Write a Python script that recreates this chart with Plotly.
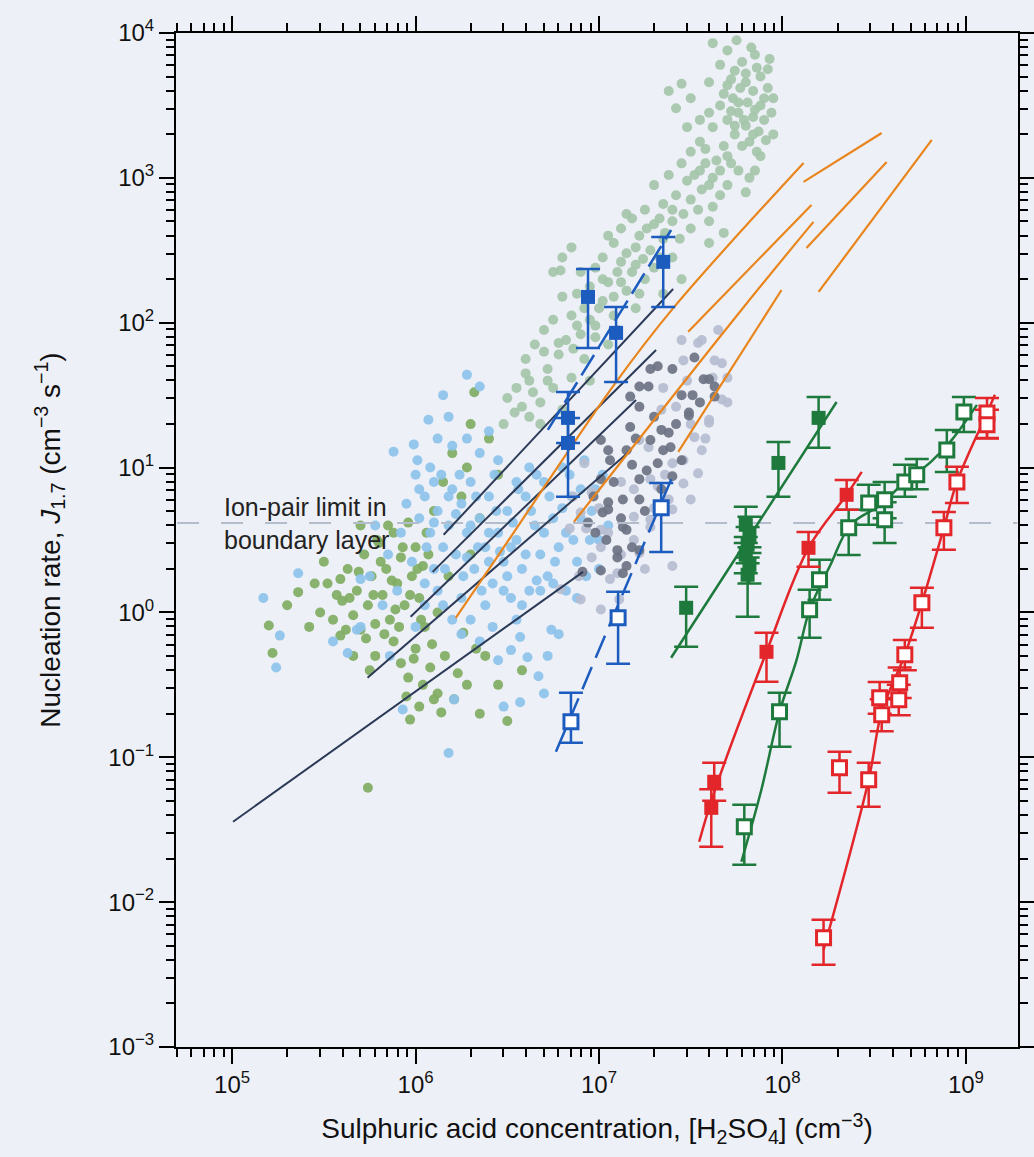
import numpy as np
import plotly.graph_objects as go

# ---------------- data (values stored as log10 exponents) ----------------
# upper, pale green field observations
sage_lx = [7.62,7.70,7.85,7.93,7.66,7.74,7.80,7.88,7.60,7.70,7.77,7.84,7.92,7.73,7.81,7.88,7.66,7.76,7.84,7.90,
           7.70,7.80,7.87,7.95,7.74,7.82,7.50,7.42,7.55,7.62,7.68,7.58,7.50,7.64,7.72,7.45,7.55,7.62,7.38,7.48,
           7.70,7.56,7.30,7.42,7.50,7.35,7.62,7.80,7.85,7.25,7.18,7.30,7.40,7.12,7.22,7.35,7.08,7.28,7.15,7.40,
           7.02,7.20,7.30,7.10,6.98,7.25,7.45,7.05,7.15,6.95,6.88,7.02,6.80,6.92,7.08,6.85,6.75,6.98,6.90,6.70,
           6.82,7.05,6.65,6.78,6.92,6.60,6.72,6.85,6.62,6.75,6.55,6.68,6.58,6.80,6.50,6.95,7.10,7.20,7.35,6.80,
           6.75,7.60,7.50,7.88,7.45,7.38,6.79,6.85,
           7.78,7.86,7.72,7.80,7.90,7.68,7.76,7.85,7.94,7.72,7.79,7.74,7.84,7.91,7.78,7.86,7.70,7.76,7.82,7.66,
           7.58,7.52,7.60,7.66,7.54,7.46,7.40,7.33,7.26,7.36,7.44,7.20,7.33,7.24,7.18,7.12,7.22,7.08,7.00,6.95,
           6.88,6.98,6.86,6.78,6.70,6.72,6.64,6.60,6.54,6.62,6.68,6.48,7.12,7.02,7.05,7.15,6.90,7.55,7.60,7.48,
           7.95,7.92,7.83,7.75,7.60,7.68]
sage_ly = [3.93,3.88,3.85,3.82,3.78,3.74,3.72,3.70,3.66,3.64,3.62,3.60,3.62,3.55,3.52,3.50,3.50,3.45,3.42,3.40,
           3.40,3.36,3.32,3.30,3.30,3.25,3.55,3.48,3.40,3.35,3.22,3.20,3.18,3.12,3.10,3.10,3.05,3.00,3.02,2.98,
           2.95,2.92,2.95,2.88,2.85,2.82,2.80,2.90,3.05,2.78,2.72,2.68,2.70,2.65,2.60,2.58,2.55,2.50,2.48,2.45,
           2.45,2.40,2.38,2.35,2.38,2.30,2.30,2.28,2.22,2.25,2.20,2.15,2.18,2.10,2.05,2.05,2.02,1.98,1.92,1.95,
           1.88,1.85,1.85,1.78,1.75,1.75,1.68,1.62,1.60,1.55,1.55,1.45,1.42,1.40,1.48,1.60,1.95,2.10,2.20,2.45,
           2.35,2.55,2.65,3.15,3.65,3.60,2.36,2.52,
           3.80,3.76,3.68,3.66,3.55,3.58,3.52,3.47,3.45,3.46,3.40,3.36,3.30,3.26,3.22,3.18,3.15,3.05,3.00,3.05,
           3.10,3.02,2.95,2.88,2.78,2.75,2.78,2.72,2.65,2.62,2.58,2.52,2.45,2.44,2.35,2.28,2.20,2.18,2.10,2.02,
           1.98,1.90,1.82,1.86,1.80,1.60,1.52,1.65,1.38,1.35,1.30,1.30,2.42,2.30,2.60,2.75,2.35,3.25,3.45,3.35,
           3.55,3.75,3.90,3.95,2.70,2.62]

# lower-left, olive green field observations
olive_lx = [5.36,5.59,5.48,5.20,5.22,5.59,5.74,5.30,5.42,5.52,5.55,5.60,5.63,5.66,5.68,5.70,5.72,5.74,5.76,5.78,
            5.80,5.82,5.84,5.86,5.88,5.90,5.92,5.94,5.96,5.98,6.00,6.02,6.04,6.06,5.88,5.92,5.96,6.00,6.04,6.08,
            5.97,6.12,6.21,6.14,6.26,6.23,6.10,6.15,6.20,6.25,6.30,6.32,6.28,6.35,6.40,6.45,6.18,6.30,6.38,6.45,
            6.50,6.35,6.58,5.66,5.78,5.70,6.05,6.12,
            5.64,5.69,5.73,5.77,5.81,5.83,5.87,5.89,5.91,5.93,5.97,5.99,6.01,6.03,6.07,6.09,5.85,5.79,5.75,5.62,
            5.57,5.50,5.45,6.16,6.28,6.33,6.10,6.02,5.95]
olive_ly = [0.14,0.23,0.00,-0.09,-0.28,-0.16,-1.21,0.05,-0.10,0.20,-0.05,0.08,0.30,-0.02,0.15,-0.12,0.40,0.05,0.25,-0.08,
            0.48,0.12,0.30,-0.05,0.55,0.20,0.38,0.05,0.62,0.25,0.45,0.10,0.32,0.55,-0.20,-0.35,-0.45,-0.25,-0.50,-0.38,
            -0.74,-0.56,-0.60,-0.69,-0.14,-0.42,0.70,0.90,1.10,0.80,1.30,1.52,1.00,0.65,1.20,0.95,0.25,0.40,-0.30,-0.50,
            -0.75,-0.70,-0.40,-0.30,-0.30,0.60,-0.10,0.00,
            0.10,0.28,-0.18,0.12,0.35,-0.15,0.22,0.02,-0.10,0.45,0.12,-0.32,0.30,-0.05,0.40,-0.22,0.60,0.50,-0.40,-0.12,
            0.12,0.35,0.20,-0.30,-0.50,-0.25,-0.60,-0.65,-0.58]

# light blue field observations
blue_lx = [6.28,6.35,6.15,6.07,6.18,5.88,5.99,6.01,6.08,5.36,5.17,5.26,5.24,5.63,5.68,5.70,5.93,6.18,6.21,6.48,
           6.57,6.67,6.70,6.45,6.52,6.61,6.74,6.57,6.00,6.05,6.10,6.02,6.12,6.08,6.15,6.20,6.18,6.25,6.22,6.28,
           6.30,6.32,6.35,6.38,6.40,6.42,6.45,6.48,6.50,6.52,6.55,6.58,6.60,6.62,6.65,6.68,6.70,6.72,6.75,6.78,
           6.80,6.82,6.85,6.88,6.90,6.92,6.95,6.98,6.62,6.55,6.45,6.35,6.28,6.40,6.20,6.12,5.95,5.92,5.98,6.05,
           6.10,6.15,6.25,6.30,6.38,6.42,6.48,6.58,6.68,6.75,6.82,6.88,6.55,6.35,6.25,6.00,5.90,5.85,5.78,6.72,
           6.78,7.00,7.05,7.02,5.75,5.82,5.70,5.86,5.55,
           6.02,6.06,6.10,6.14,6.16,6.22,6.24,6.26,6.30,6.33,6.36,6.40,6.43,6.46,6.50,6.53,6.56,6.60,6.63,6.66,
           6.70,6.73,6.76,6.80,6.84,6.86,6.90,6.93,6.96,7.00,6.44,6.34,6.18,6.28,6.52,6.66,6.12,6.05,6.20,6.40]
blue_ly = [1.64,1.56,1.50,1.33,1.35,1.11,1.16,1.05,1.00,0.27,0.10,-0.16,-0.38,-0.28,-0.12,0.23,-0.67,-0.97,-0.60,-0.65,
           -0.62,-0.44,-0.56,-0.33,-0.26,-0.31,-0.12,-0.17,0.95,0.80,0.90,0.65,0.70,0.55,0.45,0.85,0.60,0.75,0.40,0.55,
           0.90,0.30,0.65,0.45,0.80,0.20,0.55,0.35,0.70,0.10,0.50,0.30,0.80,0.15,0.60,0.40,0.90,0.25,0.65,0.45,
           1.00,0.55,0.80,0.35,0.65,1.05,0.50,0.85,1.00,0.90,1.05,1.10,1.20,1.25,1.15,1.20,0.75,0.55,0.35,0.20,
           0.30,0.05,0.10,-0.05,0.05,-0.10,0.15,0.05,0.15,0.20,0.15,0.10,-0.05,-0.20,-0.15,-0.10,0.15,0.40,0.60,-0.30,
           -0.15,0.30,0.60,0.95,0.25,0.05,-0.10,-0.30,-0.20,
           0.85,0.45,0.62,0.95,0.30,0.68,0.95,0.25,0.60,0.80,0.15,0.55,0.95,0.42,0.25,0.62,0.85,0.40,0.70,0.22,
           0.55,0.80,0.35,0.72,0.95,0.50,0.85,0.25,0.70,0.50,0.70,0.45,0.80,0.38,0.45,0.95,0.15,0.05,-0.05,0.35]

# dark grey observations
dgray_lx = [7.32,7.27,7.60,7.63,7.22,7.38,7.49,7.39,7.17,7.05,7.15,7.32,7.22,7.40,7.01,7.13,7.05,7.22,7.02,7.13,
            7.10,7.15,7.52,7.57,7.63,7.49,7.34,7.22,7.17,7.01,7.06,6.97,7.05,7.15,7.10,6.94,7.22,7.01,7.13,6.91,
            7.28,7.45,7.51,7.34,
            7.08,7.18,7.26,7.35,7.42,7.30,7.20,7.12,7.25,7.04,7.55,7.45,7.40,7.28,6.98,7.18]
dgray_ly = [1.70,1.56,1.61,1.56,1.42,1.24,1.36,1.14,1.28,1.12,1.12,1.03,0.92,0.94,0.92,0.78,0.76,0.78,0.69,0.59,
            0.38,0.32,1.76,1.61,1.49,1.38,1.26,1.56,1.49,1.19,1.05,0.80,0.71,0.57,0.43,0.62,0.43,0.29,0.27,0.28,
            1.19,1.05,1.50,0.85,
            0.90,1.02,0.98,1.12,1.30,1.35,1.20,0.65,0.70,0.50,1.45,1.50,1.68,1.68,0.55,0.45]

# light grey observations
lgray_lx = [7.45,7.54,7.46,7.63,7.67,7.60,7.52,7.46,7.54,7.27,7.32,7.38,7.46,7.19,7.28,7.05,7.19,7.01,7.22,7.40,
            7.10,6.96,6.90,7.65,7.56,7.67,7.70,7.60,7.40,7.28,7.19,6.92,6.86,7.01,7.28,7.40,6.96,6.89,7.11,7.01,
            6.90,6.79,7.06,7.34,7.56,7.50,7.22,
            7.35,7.42,7.50,7.58,7.30,7.12,7.00,6.93,7.48,7.62,7.70,7.12,7.36,7.25,6.84]
lgray_ly = [1.88,1.86,1.74,1.74,1.47,1.33,1.21,1.05,0.96,1.14,0.87,0.78,0.89,0.66,0.59,0.55,0.50,0.45,0.41,0.32,
            0.27,0.83,0.69,1.95,1.88,1.72,1.45,1.31,1.03,0.92,0.85,1.03,0.80,0.57,0.64,0.71,0.38,0.25,0.09,0.02,
            0.09,0.16,0.23,1.40,1.12,0.78,1.19,
            1.55,1.42,1.30,1.20,0.72,0.90,0.72,0.58,1.60,1.62,1.62,0.40,0.95,0.30,0.58]

# dark model lines
dark_x = [[6.153, 7.404], [6.093, 7.311], [5.973, 7.202], [5.738, 7.175], [5.005, 6.913]]
dark_y = [[0.536, 2.233], [0.280, 1.812], [-0.030, 1.467], [-0.451, 1.122], [-1.445, 0.280]]

# orange model curves
orange_x = [[6.219, 6.464, 7.082, 7.410, 8.115], [8.115, 8.541], [7.486, 8.158],
            [6.863, 7.776, 8.169], [8.131, 8.568], [8.197, 8.814], [7.432, 7.995]]
orange_y = [[-0.037, 0.418, 1.571, 2.109, 3.103], [2.972, 3.310], [1.937, 2.813],
            [0.625, 2.088, 2.696], [2.516, 3.110], [2.213, 3.262], [1.108, 2.226]]

# blue, filled squares
bf_lx = [6.940, 7.093, 7.350, 6.831, 6.831]
bf_ly = [2.178, 1.930, 2.420, 1.343, 1.170]
bf_hi = [2.371, 2.109, 2.592, 1.522, 1.343]
bf_lo = [1.826, 1.591, 2.109, 1.170, 0.798]
bf_fit_lx = [6.721, 7.393]
bf_fit_ly = [1.260, 2.640]
# blue, open squares
bo_lx = [6.847, 7.104, 7.339]
bo_ly = [-0.755, -0.037, 0.722]
bo_hi = [-0.555, 0.142, 0.894]
bo_lo = [-0.900, -0.355, 0.418]
bo_fit_lx = [6.765, 7.404]
bo_fit_ly = [-0.962, 0.950]

# green, filled squares
gf_lx = [7.475, 7.80, 7.82, 7.81, 7.80, 7.82, 7.81, 7.978, 8.197]
gf_ly = [0.032, 0.605, 0.535, 0.467, 0.398, 0.329, 0.260, 1.032, 1.343]
gf_hi = [0.177, 0.729, 0.660, 0.590, 0.520, 0.450, 0.380, 1.177, 1.488]
gf_lo = [-0.237, 0.480, 0.410, 0.340, 0.270, 0.200, -0.030, 0.798, 1.136]
gf_fit_lx = [7.393, 8.295]
gf_fit_ly = [-0.313, 1.453]
# green, open squares
go_lx = [7.792, 7.984, 8.148, 8.202, 8.361, 8.470, 8.557, 8.557, 8.667, 8.732, 8.896, 8.989]
go_ly = [-1.480, -0.686, 0.018, 0.225, 0.584, 0.756, 0.777, 0.639, 0.901, 0.950, 1.122, 1.384]
go_hi = [-1.328, -0.555, 0.156, 0.363, 0.708, 0.881, 0.900, 0.760, 1.019, 1.060, 1.260, 1.488]
go_lo = [-1.742, -0.928, -0.175, 0.087, 0.397, 0.605, 0.650, 0.480, 0.798, 0.850, 0.970, 1.246]
go_fit_lx = [7.776, 7.885, 7.984, 8.077, 8.148, 8.262, 8.372, 8.536, 8.650, 8.809, 8.923, 9.060]
go_fit_ly = [-1.721, -1.224, -0.686, -0.327, 0.018, 0.329, 0.605, 0.743, 0.881, 1.039, 1.191, 1.433]

# red, filled squares
rf_lx = [7.628, 7.612, 7.913, 8.142, 8.350]
rf_ly = [-1.169, -1.349, -0.272, 0.446, 0.812]
rf_hi = [-1.038, -1.220, -0.141, 0.556, 0.915]
rf_lo = [-1.300, -1.618, -0.479, 0.315, 0.708]
rf_fit_lx = [7.546, 7.623, 7.913, 8.142, 8.350, 8.432]
rf_fit_ly = [-1.583, -1.259, -0.272, 0.446, 0.812, 0.970]
# red, open squares
ro_lx = [8.224, 8.311, 8.470, 8.541, 8.530, 8.634, 8.639, 8.667, 8.760, 8.880, 8.951, 9.115, 9.115]
ro_ly = [-2.246, -1.073, -1.155, -0.707, -0.589, -0.603, -0.486, -0.293, 0.066, 0.584, 0.901, 1.377, 1.295]
ro_hi = [-2.122, -0.962, -1.038, -0.600, -0.480, -0.500, -0.380, -0.190, 0.170, 0.694, 1.005, 1.481, 1.400]
ro_lo = [-2.432, -1.245, -1.342, -0.820, -0.700, -0.710, -0.590, -0.400, -0.106, 0.432, 0.756, 1.205, 1.200]
ro_fit_lx = [8.224, 8.470, 8.541, 8.667, 8.760, 8.880, 8.951, 9.115, 9.158]
ro_fit_ly = [-2.329, -1.155, -0.686, -0.293, 0.066, 0.584, 0.901, 1.377, 1.502]

ion_pair_limit = 4.15  # cm^-3 s^-1

x_tick_exp = [5, 6, 7, 8, 9]
y_tick_exp = [-3, -2, -1, 0, 1, 2, 3, 4]

# ---------------- styling ----------------
BG = "#eef0f7"
FONT = "Liberation Sans, Arial, Helvetica, sans-serif"
C_SAGE, C_OLIVE, C_LBLUE = "#a4c5a9", "#7fad62", "#8dc3eb"
C_DGRAY, C_LGRAY = "#6c7383", "#b6bdd0"
C_DARK, C_ORANGE = "#2b3a57", "#e8851d"
C_BLUE, C_GREEN, C_RED = "#1d5cbf", "#1d7a3c", "#e2262a"


def P(a):
    return np.power(10.0, np.asarray(a, dtype=float))


fig = go.Figure()


def cloud(lx, ly, color, opacity=0.92):
    fig.add_trace(go.Scatter(x=P(lx), y=P(ly), mode="markers",
                             marker=dict(size=10, color=color, opacity=opacity, line=dict(width=0)),
                             showlegend=False, hoverinfo="skip"))


cloud(sage_lx, sage_ly, C_SAGE)
cloud(olive_lx, olive_ly, C_OLIVE)
cloud(blue_lx, blue_ly, C_LBLUE)
cloud(lgray_lx, lgray_ly, C_LGRAY)
cloud(dgray_lx, dgray_ly, C_DGRAY)

# ion-pair limit
fig.add_trace(go.Scatter(x=[10 ** 4.70, 10 ** 9.28], y=[ion_pair_limit, ion_pair_limit], mode="lines",
                         line=dict(color="#b4bdcb", width=2, dash="22px,22px"),
                         showlegend=False, hoverinfo="skip"))

for xs, ys in zip(dark_x, dark_y):
    fig.add_trace(go.Scatter(x=P(xs), y=P(ys), mode="lines", line=dict(color=C_DARK, width=2),
                             showlegend=False, hoverinfo="skip"))
for xs, ys in zip(orange_x, orange_y):
    fig.add_trace(go.Scatter(x=P(xs), y=P(ys), mode="lines", line=dict(color=C_ORANGE, width=2.2, shape="spline"),
                             showlegend=False, hoverinfo="skip"))


def series(lx, ly, hi, lo, color, filled, fit_lx, fit_ly, dash="solid"):
    fig.add_trace(go.Scatter(x=P(fit_lx), y=P(fit_ly), mode="lines",
                             line=dict(color=color, width=2.5, dash=dash, shape="spline"),
                             showlegend=False, hoverinfo="skip"))
    y = P(ly)
    fig.add_trace(go.Scatter(
        x=P(lx), y=y, mode="markers",
        error_y=dict(type="data", symmetric=False, array=P(hi) - y, arrayminus=y - P(lo),
                     color=color, thickness=2.5, width=12),
        marker=dict(symbol="square", size=14,
                    color=color if filled else "white",
                    line=dict(color=color, width=0 if filled else 3)),
        showlegend=False, hoverinfo="skip"))


series(bf_lx, bf_ly, bf_hi, bf_lo, C_BLUE, True, bf_fit_lx, bf_fit_ly, dash="24px,8px")
series(bo_lx, bo_ly, bo_hi, bo_lo, C_BLUE, False, bo_fit_lx, bo_fit_ly, dash="24px,10px")
series(gf_lx, gf_ly, gf_hi, gf_lo, C_GREEN, True, gf_fit_lx, gf_fit_ly)
series(go_lx, go_ly, go_hi, go_lo, C_GREEN, False, go_fit_lx, go_fit_ly)
series(rf_lx, rf_ly, rf_hi, rf_lo, C_RED, True, rf_fit_lx, rf_fit_ly)
series(ro_lx, ro_ly, ro_hi, ro_lo, C_RED, False, ro_fit_lx, ro_fit_ly)

fig.add_annotation(x=4.945, y=0.615, xref="x", yref="y", text="Ion-pair limit in<br>boundary layer",
                   showarrow=False, xanchor="left", yanchor="middle", align="left",
                   font=dict(family=FONT, size=25, color="#222222"))


def minor_vals(e0, e1):
    return [m * 10.0 ** e for e in range(e0, e1) for m in range(2, 10)]


axis_common = dict(type="log", showgrid=False, zeroline=False, showline=True, linecolor="black", linewidth=2,
                   ticks="outside", ticklen=15, tickwidth=2, tickcolor="black", mirror="allticks",
                   automargin=False, tickfont=dict(family=FONT, size=24, color="#111111"))

fig.update_xaxes(**axis_common, range=[4.694, 9.284],
                 tickmode="array", tickvals=[10.0 ** e for e in x_tick_exp],
                 ticktext=["10<sup>%d</sup>" % e for e in x_tick_exp],
                 minor=dict(tickmode="array", tickvals=minor_vals(4, 10), ticks="outside", ticklen=8,
                            tickwidth=1.5, tickcolor="black"),
                 title=dict(text="Sulphuric acid concentration, [H<sub>2</sub>SO<sub>4</sub>] (cm<sup>−3</sup>)",
                            font=dict(family=FONT, size=28, color="#111111"), standoff=22))
fig.update_yaxes(**axis_common, range=[-3, 4],
                 tickmode="array", tickvals=[10.0 ** e for e in y_tick_exp],
                 ticktext=["10<sup>%s</sup>" % (("−%d" % -e) if e < 0 else str(e)) for e in y_tick_exp],
                 minor=dict(tickmode="array", tickvals=minor_vals(-3, 4), ticks="outside", ticklen=8,
                            tickwidth=1.5, tickcolor="black"),
                 title=dict(text="Nucleation rate, <i>J</i><sub>1.7</sub> (cm<sup>−3</sup> s<sup>−1</sup>)",
                            font=dict(family=FONT, size=28, color="#111111"), standoff=40))

fig.update_layout(width=1034, height=1157, margin=dict(l=176, r=16, t=33, b=110),
                  paper_bgcolor=BG, plot_bgcolor=BG, showlegend=False,
                  font=dict(family=FONT, color="#111111"))

fig.write_html("out.html", config={"displayModeBar": False},
               post_script="document.body.style.margin='0px';document.body.style.background='#eef0f7';")
